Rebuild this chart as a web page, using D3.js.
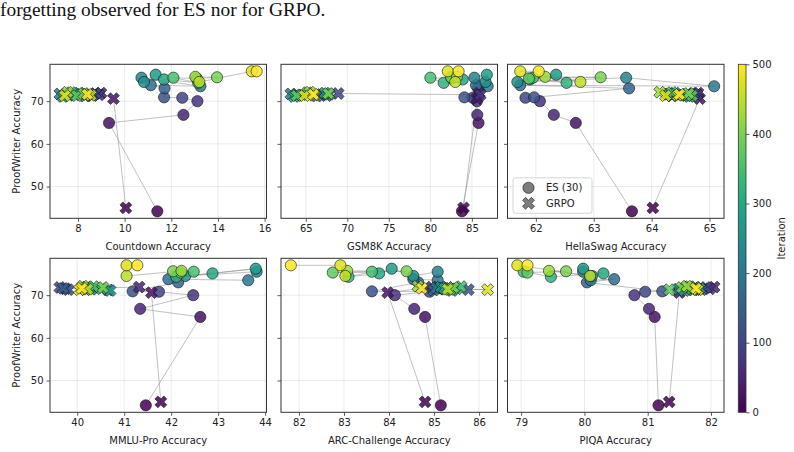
<!DOCTYPE html>
<html>
<head>
<meta charset="utf-8">
<script src="https://cdn.jsdelivr.net/npm/d3@7"></script>
<style>
  body { margin: 0; background: #fff; }
  svg { display: block; }
  text { font-family: "DejaVu Sans", sans-serif; }
</style>
</head>
<body>
<svg id="chart" width="794" height="452"></svg>
<script>
// ---------------- DATA ----------------
const iterations = [0,25,50,75,100,125,150,175,200,225,250,275,300,325,350,375,400,425,450,475,500];

const benchmarks = ["Countdown", "GSM8K", "HellaSwag", "MMLU-Pro", "ARC-Challenge", "PIQA"];

const esProofWriter = [44.2, 64.9, 66.8, 70.0, 70.8, 70.9, 73.0, 73.75, 73.5, 75.5, 74.5, 76.2, 75.1, 74.3, 75.5, 75.3, 75.6, 75.7, 74.5, 77.0, 77.0];
const esCountdown  = [11.40, 9.33, 12.52, 13.12, 12.47, 11.69, 11.71, 11.12, 13.25, 10.72, 10.83, 11.33, 11.69, 13.15, 12.09, 13.10, 13.96, 13.03, 13.20, 15.45, 15.66];
const esGSM8K      = [83.8, 85.8, 85.65, 85.6, 85.1, 84.1, 85.75, 85.5, 86.9, 85.3, 86.65, 86.8, 83.9, 81.6, 80.0, 82.6, 82.5, 83.2, 83.0, 82.1, 83.4];
const esHellaSwag  = [63.66, 62.69, 62.31, 62.07, 61.82, 61.97, 63.61, 61.73, 65.08, 63.56, 61.68, 62.35, 61.9, 62.53, 61.95, 61.88, 63.12, 62.16, 62.77, 61.73, 62.05];
const esMMLUPro    = [41.46, 42.62, 41.34, 42.47, 41.74, 41.18, 42.15, 41.94, 43.64, 43.82, 42.30, 43.80, 42.88, 42.11, 42.48, 42.20, 42.04, 42.22, 41.05, 41.05, 41.28];
const esARC        = [85.15, 84.80, 84.56, 84.13, 84.90, 83.62, 84.65, 84.54, 85.08, 85.08, 84.54, 84.06, 83.78, 83.10, 83.62, 82.75, 84.39, 83.07, 83.03, 82.92, 81.82];
const esPIQA       = [81.17, 81.11, 81.02, 80.79, 80.96, 81.23, 80.04, 80.47, 80.10, 79.98, 80.12, 79.98, 80.30, 79.47, 79.04, 79.10, 79.71, 79.44, 80.09, 78.94, 79.10];

const grpoProofWriter = [45.0, 70.6, 71.9, 71.5, 71.8, 71.3, 71.6, 71.2, 71.7, 71.4, 71.9, 71.1, 71.6, 71.5, 72.0, 71.3, 71.8, 72.1, 71.4, 71.3, 71.6];
const grpoCountdown  = [10.05, 9.52, 8.98, 8.90, 8.75, 8.62, 8.50, 8.30, 7.22, 7.60, 8.05, 7.35, 8.15, 7.85, 7.70, 7.95, 8.25, 7.55, 8.55, 7.43, 8.40];
const grpoGSM8K      = [84.0, 85.6, 85.9, 86.0, 68.9, 67.5, 66.9, 66.3, 63.2, 64.0, 67.3, 63.6, 67.8, 64.5, 65.2, 63.9, 67.7, 65.5, 66.0, 64.85, 65.9];
const grpoHellaSwag  = [64.02, 64.83, 64.80, 64.78, 64.72, 64.60, 64.50, 64.35, 64.30, 64.55, 64.40, 64.65, 64.28, 64.62, 64.35, 64.70, 64.64, 64.14, 64.45, 64.24, 64.48];
const grpoMMLUPro    = [41.78, 41.58, 41.32, 39.75, 39.63, 39.81, 39.70, 40.66, 40.15, 40.30, 40.20, 40.70, 40.25, 40.52, 40.35, 40.18, 40.55, 40.12, 40.22, 40.05, 40.10];
const grpoARC        = [84.80, 83.97, 84.95, 85.10, 85.30, 85.76, 85.20, 84.99, 85.05, 85.25, 85.15, 85.40, 85.23, 85.50, 85.60, 85.35, 85.43, 84.64, 85.30, 86.19, 84.73];
const grpoPIQA       = [81.34, 81.50, 82.05, 81.98, 81.92, 81.85, 81.60, 81.72, 81.65, 81.48, 81.75, 81.58, 81.82, 81.70, 81.66, 81.34, 81.54, 81.62, 81.78, 81.79, 81.76];

const xTickValues = [[8,10,12,14,16],[65,70,75,80,85],[62,63,64,65],[40,41,42,43,44],[82,83,84,85,86],[79,80,81,82]];
const yTickValues = [50,60,70];
const colorbarTicks = [0,100,200,300,400,500];
const legendLabels = ["ES (30)", "GRPO"];
const headerText = "forgetting observed for ES nor for GRPO.";

// ---------------- LAYOUT ----------------
const esX = [esCountdown, esGSM8K, esHellaSwag, esMMLUPro, esARC, esPIQA];
const grpoX = [grpoCountdown, grpoGSM8K, grpoHellaSwag, grpoMMLUPro, grpoARC, grpoPIQA];

const colLeft = [50, 281, 507.5];
const panelW = 216.5;
const rowTop = [64.3, 258.3];
const panelH = 154;

const svg = d3.select("#chart");
svg.append("rect").attr("width", 794).attr("height", 452).attr("fill", "#fff");

svg.append("text")
  .attr("x", 0).attr("y", 16)
  .style("font-family", "'Liberation Serif', 'Times New Roman', serif")
  .style("font-size", "19.4px")
  .attr("fill", "#111")
  .text(headerText);

const color = d3.scaleSequential(d3.interpolateViridis).domain([0, 500]);

function padded(ext) {
  const r = ext[1] - ext[0];
  return [ext[0] - 0.05 * r, ext[1] + 0.05 * r];
}
const yDomain = padded(d3.extent(esProofWriter.concat(grpoProofWriter)));

// matplotlib-like filled 'X' marker
function xMarker(k) {
  const base = [[-1,-3],[-1,-1],[-3,-1],[-3,1],[-1,1],[-1,3],[1,3],[1,1],[3,1],[3,-1],[1,-1],[1,-3]];
  const c = Math.SQRT1_2;
  const pts = base.map(([x, y]) => {
    const X = x * k / 6, Y = y * k / 6;
    return [X * c - Y * c, X * c + Y * c];
  });
  return "M" + pts.map(p => p[0].toFixed(2) + "," + p[1].toFixed(2)).join("L") + "Z";
}
const xPath = xMarker(12.6);
const circleR = 5.6;
const spineColor = "#333";

benchmarks.forEach((name, i) => {
  const row = Math.floor(i / 3), col = i % 3;
  const left = colLeft[col], top = rowTop[row];
  const g = svg.append("g").attr("transform", `translate(${left},${top})`);

  const xDomain = padded(d3.extent(esX[i].concat(grpoX[i])));
  const x = d3.scaleLinear().domain(xDomain).range([0, panelW]);
  const y = d3.scaleLinear().domain(yDomain).range([panelH, 0]);

  const clipId = "clip" + i;
  g.append("clipPath").attr("id", clipId).append("rect").attr("width", panelW).attr("height", panelH);

  // grid
  const grid = g.append("g");
  grid.selectAll(".gx").data(xTickValues[i]).join("line")
    .attr("x1", d => x(d)).attr("x2", d => x(d)).attr("y1", 0).attr("y2", panelH)
    .attr("stroke", "#b0b0b0").attr("stroke-opacity", 0.3).attr("stroke-width", 0.8);
  grid.selectAll(".gy").data(yTickValues).join("line")
    .attr("y1", d => y(d)).attr("y2", d => y(d)).attr("x1", 0).attr("x2", panelW)
    .attr("stroke", "#b0b0b0").attr("stroke-opacity", 0.3).attr("stroke-width", 0.8);

  const plot = g.append("g").attr("clip-path", `url(#${clipId})`);

  const esPts = iterations.map((it, j) => ({ it, x: esX[i][j], y: esProofWriter[j] }));
  const grPts = iterations.map((it, j) => ({ it, x: grpoX[i][j], y: grpoProofWriter[j] }));

  const line = d3.line().x(d => x(d.x)).y(d => y(d.y));
  [esPts, grPts].forEach(pts => {
    plot.append("path").attr("d", line(pts)).attr("fill", "none")
      .attr("stroke", "#909090").attr("stroke-opacity", 0.7).attr("stroke-width", 0.8);
  });

  plot.selectAll(".es").data(esPts).join("circle")
    .attr("cx", d => x(d.x)).attr("cy", d => y(d.y)).attr("r", circleR)
    .attr("fill", d => color(d.it)).attr("fill-opacity", 0.85)
    .attr("stroke", "#111").attr("stroke-opacity", 0.85).attr("stroke-width", 0.7);

  plot.selectAll(".gr").data(grPts).join("path")
    .attr("d", xPath)
    .attr("transform", d => `translate(${x(d.x)},${y(d.y)})`)
    .attr("fill", d => color(d.it)).attr("fill-opacity", 0.85)
    .attr("stroke", "#111").attr("stroke-opacity", 0.85).attr("stroke-width", 0.7);

  // axes
  const xAxis = d3.axisBottom(x).tickValues(xTickValues[i]).tickSize(3.5).tickPadding(3).tickFormat(d3.format("d"));
  const ax = g.append("g").attr("transform", `translate(0,${panelH})`).call(xAxis);
  const yAxis = d3.axisLeft(y).tickValues(yTickValues).tickSize(3.5).tickPadding(3)
    .tickFormat(col === 0 ? d3.format("d") : () => "");
  const ay = g.append("g").call(yAxis);
  [ax, ay].forEach(a => {
    a.select(".domain").remove();
    a.selectAll("line").attr("stroke", spineColor).attr("stroke-width", 0.8);
    a.selectAll("text").attr("fill", "#222").style("font-size", "10px").style("font-family", "'DejaVu Sans', sans-serif");
  });

  // spines
  g.append("rect").attr("width", panelW).attr("height", panelH)
    .attr("fill", "none").attr("stroke", spineColor).attr("stroke-width", 1);

  // labels
  g.append("text").attr("x", panelW / 2).attr("y", panelH + 31.5)
    .attr("text-anchor", "middle").style("font-size", "10px").attr("fill", "#222")
    .text(name + " Accuracy");
  if (col === 0) {
    g.append("text")
      .attr("transform", `translate(${-30},${panelH / 2}) rotate(-90)`)
      .attr("text-anchor", "middle").style("font-size", "10px").attr("fill", "#222")
      .text("ProofWriter Accuracy");
  }

  // legend in HellaSwag panel
  if (i === 2) {
    const lg = g.append("g").attr("transform", "translate(5.5,113.5)");
    lg.append("rect").attr("width", 79).attr("height", 35.5).attr("rx", 2.5)
      .attr("fill", "#fff").attr("fill-opacity", 0.8).attr("stroke", "#ccc").attr("stroke-width", 0.8);
    lg.append("circle").attr("cx", 15.5).attr("cy", 10).attr("r", circleR)
      .attr("fill", "#666").attr("fill-opacity", 0.85).attr("stroke", "#111").attr("stroke-opacity", 0.85).attr("stroke-width", 0.7);
    lg.append("path").attr("d", xPath).attr("transform", "translate(15.5,25.5)")
      .attr("fill", "#666").attr("fill-opacity", 0.85).attr("stroke", "#111").attr("stroke-opacity", 0.85).attr("stroke-width", 0.7);
    lg.selectAll(".lt").data(legendLabels).join("text")
      .attr("x", 33).attr("y", (d, k) => 13.5 + k * 15.5)
      .style("font-size", "10px").attr("fill", "#222").text(d => d);
  }
});

// ---------------- COLORBAR ----------------
const cbX = 738.3, cbW = 7.7, cbTop = rowTop[0], cbBottom = rowTop[1] + panelH;
const defs = svg.append("defs");
const grad = defs.append("linearGradient").attr("id", "viridisGrad")
  .attr("x1", "0").attr("y1", "1").attr("x2", "0").attr("y2", "0");
d3.range(0, 1.0001, 0.05).forEach(t => {
  grad.append("stop").attr("offset", t).attr("stop-color", d3.interpolateViridis(t));
});
svg.append("rect").attr("x", cbX).attr("y", cbTop).attr("width", cbW).attr("height", cbBottom - cbTop)
  .attr("fill", "url(#viridisGrad)").attr("stroke", spineColor).attr("stroke-width", 0.8);
const cbScale = d3.scaleLinear().domain([0, 500]).range([cbBottom, cbTop]);
const cbAxis = svg.append("g").attr("transform", `translate(${cbX + cbW},0)`)
  .call(d3.axisRight(cbScale).tickValues(colorbarTicks).tickSize(3.5).tickPadding(3));
cbAxis.select(".domain").remove();
cbAxis.selectAll("line").attr("stroke", spineColor).attr("stroke-width", 0.8);
cbAxis.selectAll("text").attr("fill", "#222").style("font-size", "10px").style("font-family", "'DejaVu Sans', sans-serif");
svg.append("text")
  .attr("transform", `translate(785,${(cbTop + cbBottom) / 2}) rotate(-90)`)
  .attr("text-anchor", "middle").style("font-size", "10px").attr("fill", "#222")
  .text("Iteration");
</script>
</body>
</html>
